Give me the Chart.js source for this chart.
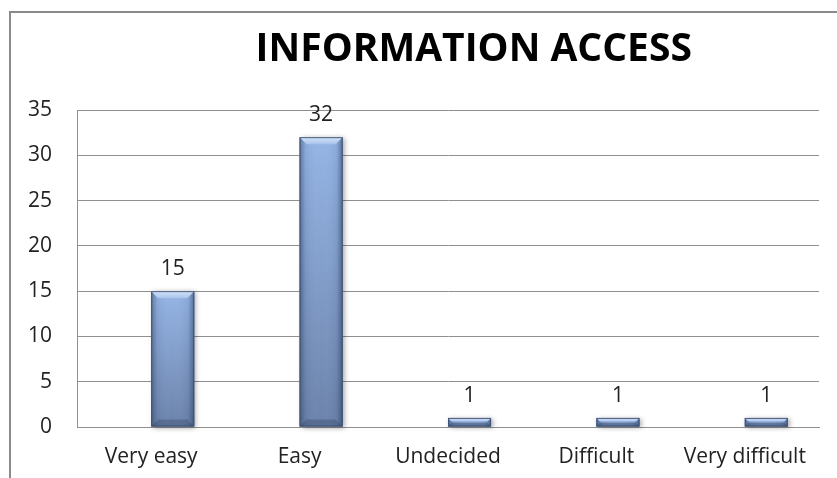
<!DOCTYPE html>
<html>
<head>
<meta charset="utf-8">
<script src="https://cdn.jsdelivr.net/npm/chart.js@4.4.0/dist/chart.umd.min.js"></script>
<style>
  html, body { margin: 0; padding: 0; background: #ffffff; }
  #wrap { width: 837px; height: 478px; position: relative; }
  canvas { display: block; }
</style>
</head>
<body>
<div id="wrap"><canvas id="c" width="837" height="478"></canvas></div>
<script>
// Survey answers: how easy it is to access information
const categories = ['Very easy', 'Easy', 'Undecided', 'Difficult', 'Very difficult'];
const responses = [15, 32, 1, 1, 1];
// empty companion series that shares each category slot (leaves the bars offset right)
const companion = [null, null, null, null, null];
const yTicks = [0, 5, 10, 15, 20, 25, 30, 35];
const chartTitle = 'INFORMATION ACCESS';

const FONT = 'Open Sans';
const GRID = '#8f8f8f';

// Bevelled, shaded column drawn over the element geometry
function paintBar(ctx, x, top, base, w) {
  const l = x - w / 2, r = x + w / 2, h = base - top;
  if (h <= 0) return;
  const bev = Math.min(7, h / 2.4);
  ctx.save();
  ctx.shadowColor = 'rgba(0,0,0,0.35)';
  ctx.shadowBlur = 5;
  ctx.shadowOffsetX = 2;
  ctx.shadowOffsetY = 1;
  const body = ctx.createLinearGradient(0, top, 0, base);
  body.addColorStop(0, '#95b5e6');
  body.addColorStop(1, '#6b83ab');
  ctx.fillStyle = body;
  ctx.fillRect(l, top, w, h);
  ctx.restore();

  ctx.save();
  const side = ctx.createLinearGradient(l, 0, r, 0);
  side.addColorStop(0, 'rgba(30,45,75,0.45)');
  side.addColorStop(0.14, 'rgba(30,45,75,0.08)');
  side.addColorStop(0.5, 'rgba(255,255,255,0)');
  side.addColorStop(0.86, 'rgba(30,45,75,0.08)');
  side.addColorStop(1, 'rgba(30,45,75,0.5)');
  ctx.fillStyle = side;
  ctx.fillRect(l, top, w, h);

  ctx.beginPath();
  ctx.moveTo(l, top); ctx.lineTo(r, top);
  ctx.lineTo(r - bev, top + bev); ctx.lineTo(l + bev, top + bev);
  ctx.closePath();
  const tg = ctx.createLinearGradient(0, top, 0, top + bev);
  tg.addColorStop(0, '#d4e3f8');
  tg.addColorStop(1, '#a8c4ec');
  ctx.fillStyle = tg;
  ctx.fill();

  ctx.beginPath();
  ctx.moveTo(l, base); ctx.lineTo(r, base);
  ctx.lineTo(r - bev, base - bev); ctx.lineTo(l + bev, base - bev);
  ctx.closePath();
  ctx.fillStyle = 'rgba(40,55,85,0.3)';
  ctx.fill();

  ctx.strokeStyle = 'rgba(62,80,112,0.9)';
  ctx.lineWidth = 1;
  ctx.strokeRect(l + 0.5, top + 0.5, w - 1, h - 1);
  ctx.restore();
}

const framePlugin = {
  id: 'frameAndTitle',
  beforeDraw(chart) {
    const ctx = chart.ctx;
    ctx.save();
    ctx.fillStyle = '#ffffff';
    ctx.fillRect(0, 0, chart.width, chart.height);
    ctx.strokeStyle = '#8a8a8a';
    ctx.lineWidth = 2;
    ctx.beginPath();
    ctx.moveTo(10, chart.height + 2);
    ctx.lineTo(10, 12);
    ctx.lineTo(chart.width + 2, 12);
    ctx.stroke();
    ctx.fillStyle = '#000000';
    ctx.font = 'bold 39px "' + FONT + '"';
    ctx.textAlign = 'center';
    ctx.textBaseline = 'middle';
    ctx.fillText(chartTitle, chart.width * 0.566, 50);
    ctx.restore();
  }
};

const barPlugin = {
  id: 'bevelBars',
  afterDatasetDraw(chart, args) {
    if (args.index !== 1) return;
    const ctx = chart.ctx;
    args.meta.data.forEach(el => {
      const p = el.getProps(['x', 'y', 'base', 'width'], true);
      paintBar(ctx, p.x, p.y, p.base, p.width);
    });
  },
  afterDatasetsDraw(chart) {
    const ctx = chart.ctx;
    const meta = chart.getDatasetMeta(1);
    ctx.save();
    ctx.fillStyle = '#222222';
    ctx.font = '21px "' + FONT + '"';
    ctx.textAlign = 'center';
    ctx.textBaseline = 'middle';
    meta.data.forEach((el, i) => {
      const p = el.getProps(['x', 'y'], true);
      ctx.fillText(String(responses[i]), p.x, p.y - 22);
    });
    ctx.restore();
  }
};

new Chart(document.getElementById('c'), {
  type: 'bar',
  data: {
    labels: categories,
    datasets: [
      { label: '', data: companion, backgroundColor: 'rgba(0,0,0,0)' },
      { label: 'Responses', data: responses, backgroundColor: '#7d9bcb', borderWidth: 0 }
    ]
  },
  options: {
    responsive: false,
    animation: false,
    devicePixelRatio: 1,
    categoryPercentage: 0.58,
    barPercentage: 1,
    layout: { padding: { top: 110, right: 18, bottom: 0, left: 0 } },
    plugins: {
      legend: { display: false },
      title: { display: false },
      tooltip: { enabled: false }
    },
    scales: {
      x: {
        grid: { display: false, drawTicks: false },
        border: { display: true, color: GRID, width: 1 },
        ticks: { padding: 17, color: '#222222', font: { family: FONT, size: 21 } },
        afterFit: s => { s.height = 51; }
      },
      y: {
        min: 0,
        max: 35,
        afterBuildTicks: s => { s.ticks = yTicks.map(v => ({ value: v })); },
        grid: { color: GRID, drawTicks: false },
        border: { display: true, color: GRID, width: 1 },
        ticks: { padding: 25, color: '#222222', font: { family: FONT, size: 21 } },
        afterFit: s => { s.width = 77; }
      }
    }
  },
  plugins: [framePlugin, barPlugin]
});
</script>
</body>
</html>
